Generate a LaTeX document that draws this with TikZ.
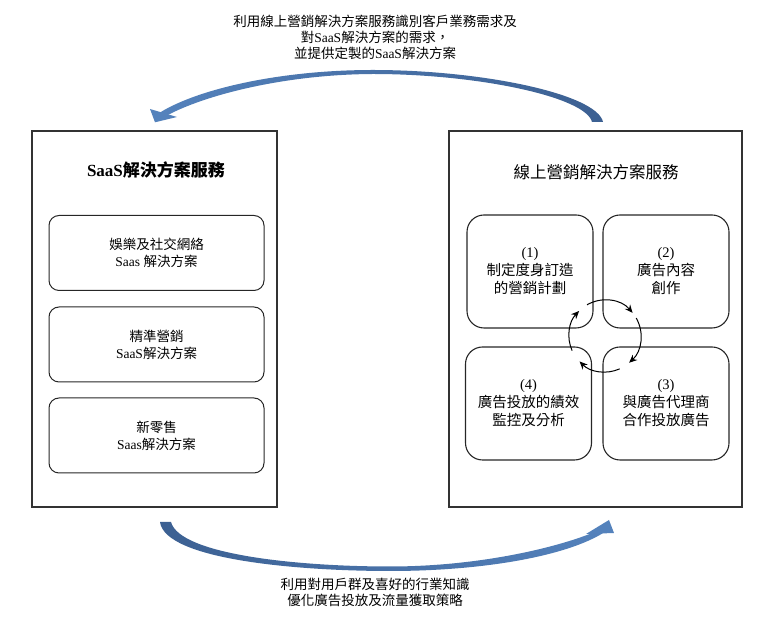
\documentclass[tikz,border=0pt]{standalone}
\usepackage{fontspec}
\setmainfont{Liberation Serif}
\newfontfamily\zhfont{Noto Sans CJK TC}
\newcommand{\zh}[1]{{\zhfont #1}}
\usetikzlibrary{arrows.meta}
\definecolor{arrowdark}{RGB}{60,96,146}
\definecolor{arrowlight}{RGB}{84,130,188}
\tikzset{
  panel/.style={draw=black!80, line width=1.2pt, inner sep=0pt},
  item/.style={draw=black!85, line width=1pt, rounded corners=10pt, minimum width=215pt, minimum height=75pt, inner sep=0pt, align=center, font=\fontsize{13.5}{17}\selectfont},
  quad/.style={draw=black!85, line width=1.1pt, rounded corners=17pt, minimum width=126pt, minimum height=113pt, inner sep=0pt, align=center, font=\fontsize{14.5}{18}\selectfont},
  cyc/.style={-{Stealth[length=8pt,width=7pt]}, line width=1pt},
  caption/.style={align=center, font=\fontsize{13.5}{16}\selectfont},
}
\begin{document}
\begin{tikzpicture}[x=1pt, y=1pt]
    \useasboundingbox (0,0) rectangle (772,621);
    % the two panels
    \node[panel, minimum width=245pt, minimum height=376pt] (saas) at (154.5,302) {};
    \node[panel, minimum width=293pt, minimum height=376pt] (online) at (595.5,302) {};
    \node[font=\fontsize{17}{20}\selectfont\bfseries] (saastitle) at (156,451) {SaaS\zh{解決方案服務}};
    \node[font=\fontsize{16.5}{20}\selectfont] (onlinetitle) at (596,449) {\zh{線上營銷解決方案服務}};

    % saas solutions
    \node[item] (ent) at (156.5,368) {\zh{娛樂及社交網絡}\\Saas \zh{解決方案}};
    \node[item] (mkt) at (156.5,276.5) {\zh{精準營銷}\\SaaS\zh{解決方案}};
    \node[item] (retail) at (156.5,185.5) {\zh{新零售}\\Saas\zh{解決方案}};

    % online marketing cycle
    \node[quad] (plan) at (530,349.5) {(1)\\\zh{制定度身訂造}\\\zh{的營銷計劃}};
    \node[quad] (create) at (666,349.5) {(2)\\\zh{廣告內容}\\\zh{創作}};
    \node[quad] (place) at (666,217.5) {(3)\\\zh{與廣告代理商}\\\zh{合作投放廣告}};
    \node[quad] (track) at (528.5,217.5) {(4)\\\zh{廣告投放的績效}\\\zh{監控及分析}};

    \coordinate (hub) at (605,285);
    \draw[cyc] ([shift={(120:36pt)}]hub) arc[start angle=120, end angle=40, radius=36pt];
    \draw[cyc] ([shift={(30:36pt)}]hub) arc[start angle=30, end angle=-48, radius=36pt];
    \draw[cyc] ([shift={(-66:36pt)}]hub) arc[start angle=-66, end angle=-135, radius=36pt];
    \draw[cyc] ([shift={(204:36pt)}]hub) arc[start angle=204, end angle=136, radius=36pt];

    % upper arrow, online -> saas
    \shade[left color=arrowlight, right color=arrowdark] (603,499) .. controls (597,527) and (482,551) .. (373,551)
        .. controls (280,551) and (198,532) .. (160,508.5) -- (167,505.5)
        .. controls (203,525) and (282,546.5) .. (373,547) .. controls (478,547) and (586,524) .. (592,499) -- cycle;
    \fill[arrowlight] (155,498.7) -- (150,512) -- (177,504) -- cycle;

    % lower arrow, saas -> online
    \shade[left color=arrowdark, right color=arrowlight] (160,99) .. controls (165,61) and (300,50) .. (390,50)
        .. controls (480,50) and (565,64) .. (604,88.5) -- (597,90)
        .. controls (560,74) and (480,54.5) .. (390,54.5) .. controls (300,54.5) and (180,66) .. (171,99) -- cycle;
    \fill[arrowlight] (609,101) -- (586,87) -- (614,88) -- cycle;

    \node[caption] (feedback) at (375,583.3) {\zh{利用線上營銷解決方案服務識別客戶業務需求及}\\\zh{對}SaaS\zh{解決方案的需求，}\\\zh{並提供定製的}SaaS\zh{解決方案}};
    \node[caption] (insight) at (375,28.5) {\zh{利用對用戶群及喜好的行業知識}\\\zh{優化廣告投放及流量獲取策略}};
\end{tikzpicture}
\end{document}
